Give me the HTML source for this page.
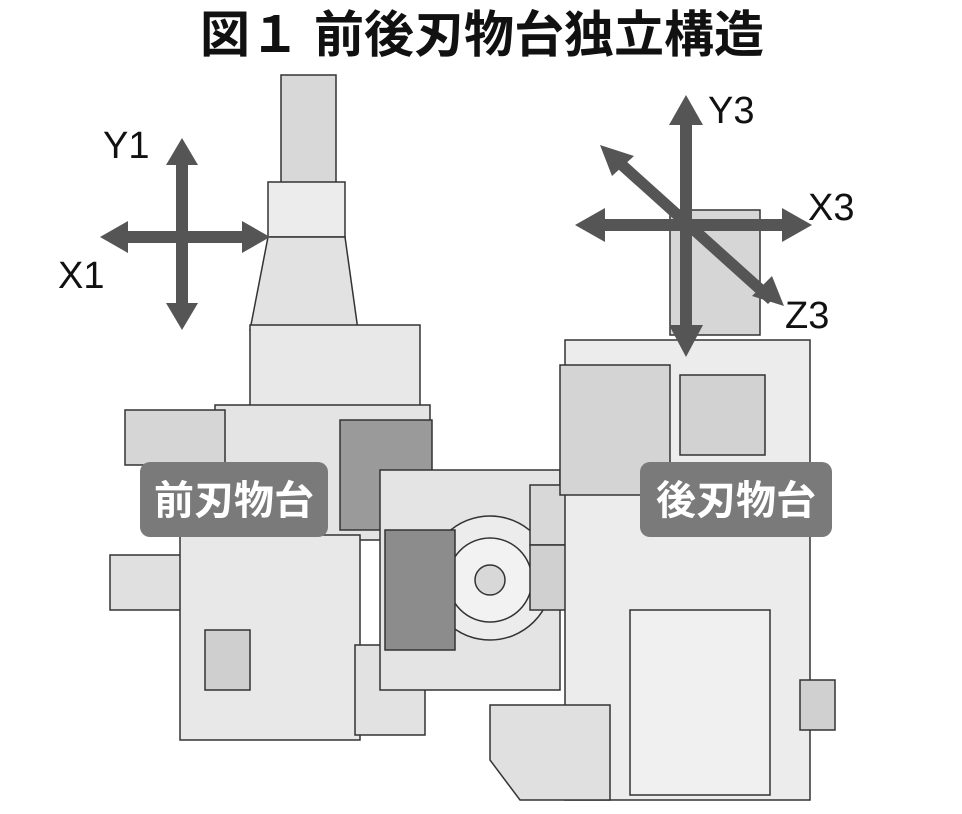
<!DOCTYPE html>
<html><head><meta charset="utf-8"><style>
html,body{margin:0;padding:0;background:#fff;width:962px;height:814px;overflow:hidden}
svg{display:block}
</style></head><body>
<svg width="962" height="814" viewBox="0 0 962 814" xmlns="http://www.w3.org/2000/svg">
<text x="482" y="52" text-anchor="middle" font-family="'Liberation Sans','Noto Sans CJK JP',sans-serif" font-weight="bold" font-size="50" fill="#111">図１ 前後刃物台独立構造</text>
<g stroke="#333" stroke-width="1.5" fill="#e6e6e6">
<rect x="281" y="75" width="55" height="110" fill="#d8d8d8"/>
<rect x="268" y="182" width="77" height="55" fill="#ececec"/>
<polygon points="268,237 345,237 358,330 250,330" fill="#e2e2e2"/>
<rect x="250" y="325" width="170" height="92" fill="#e8e8e8"/>
<rect x="215" y="405" width="215" height="135" fill="#e4e4e4"/>
<rect x="125" y="410" width="100" height="55" fill="#d6d6d6"/>
<rect x="340" y="420" width="92" height="110" fill="#9a9a9a"/>
<rect x="110" y="555" width="80" height="55" fill="#e0e0e0"/>
<rect x="180" y="535" width="180" height="205" fill="#e8e8e8"/>
<rect x="205" y="630" width="45" height="60" fill="#cfcfcf"/>
<rect x="355" y="645" width="70" height="90" fill="#e2e2e2"/>
<rect x="380" y="470" width="180" height="220" fill="#e4e4e4"/>
<circle cx="490" cy="578" r="62" fill="#ececec"/>
<circle cx="490" cy="580" r="42" fill="#f2f2f2"/>
<circle cx="490" cy="580" r="15" fill="#d8d8d8"/>
<rect x="385" y="530" width="70" height="120" fill="#8c8c8c"/>
<rect x="530" y="485" width="80" height="60" fill="#d8d8d8"/>
<rect x="530" y="545" width="70" height="65" fill="#d0d0d0"/>
<rect x="565" y="340" width="245" height="460" fill="#ececec"/>
<rect x="560" y="365" width="110" height="130" fill="#d4d4d4"/>
<rect x="670" y="210" width="90" height="125" fill="#d6d6d6"/>
<rect x="680" y="375" width="85" height="80" fill="#d2d2d2"/>
<rect x="630" y="610" width="140" height="185" fill="#f0f0f0"/>
<rect x="800" y="680" width="35" height="50" fill="#d0d0d0"/>
<polygon points="490,705 610,705 610,800 520,800 490,760" fill="#e0e0e0"/>
</g>
<g fill="#555">
<rect x="176" y="162" width="12" height="148"/>
<polygon points="182,138 198,165 166,165"/><polygon points="182,330 198,303 166,303"/>
<rect x="125" y="231" width="120" height="12"/>
<polygon points="100,237 128,221 128,253"/><polygon points="270,237 242,221 242,253"/>
<rect x="680" y="120" width="12" height="210"/>
<polygon points="686,95 703,125 669,125"/><polygon points="686,357 703,325 669,325"/>
<rect x="600" y="219" width="185" height="12"/>
<polygon points="575,225 605,208 605,242"/><polygon points="812,225 782,208 782,242"/>
<polygon points="616,152 776,296 768,304 608,160"/>
<polygon points="600,145 634,156 612,176"/><polygon points="784,306 752,296 772,276"/>
</g>
<g font-family="'Liberation Sans',sans-serif" font-size="38" fill="#111">
<text x="103" y="158">Y1</text><text x="58" y="288">X1</text>
<text x="708" y="123">Y3</text><text x="808" y="220">X3</text><text x="785" y="328">Z3</text>
</g>
<rect x="140" y="462" width="188" height="75" rx="10" fill="#7a7a7a"/>
<rect x="640" y="462" width="192" height="75" rx="10" fill="#7a7a7a"/>
<g font-family="'Liberation Sans','Noto Sans CJK JP',sans-serif" font-weight="bold" font-size="40" fill="#fff" text-anchor="middle">
<text x="234" y="514">前刃物台</text><text x="736" y="514">後刃物台</text>
</g>
</svg>
</body></html>
